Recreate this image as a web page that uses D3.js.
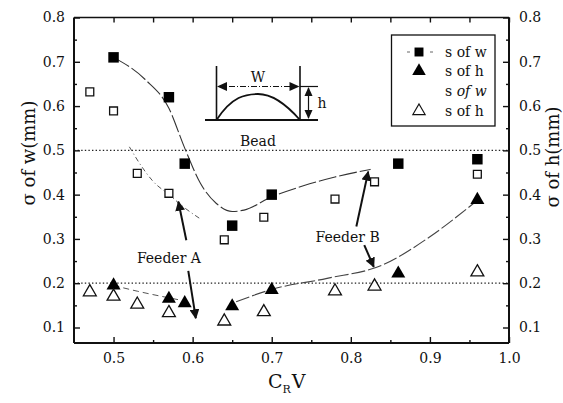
<!DOCTYPE html>
<html>
<head>
<meta charset="utf-8">
<script src="https://cdn.jsdelivr.net/npm/d3@7"></script>
<style>
  html, body { margin: 0; padding: 0; background: #fff; }
  svg { display: block; }
  text { font-family: "DejaVu Serif", "Liberation Serif", serif; fill: #111; }
</style>
</head>
<body>
<svg id="chart" width="563" height="403"></svg>
<script>
// ---- measured series ----
// sigma of bead width, filled squares
const wFilledX = [0.50, 0.57, 0.59, 0.65, 0.70, 0.86, 0.96];
const wFilledY = [0.71, 0.62, 0.47, 0.33, 0.40, 0.47, 0.48];
// sigma of bead width, open squares
const wOpenX = [0.47, 0.50, 0.53, 0.57, 0.64, 0.69, 0.78, 0.83, 0.96];
const wOpenY = [0.632, 0.589, 0.448, 0.403, 0.298, 0.349, 0.39, 0.429, 0.446];
// sigma of bead height, filled triangles
const hFilledX = [0.50, 0.57, 0.59, 0.65, 0.70, 0.86, 0.96];
const hFilledY = [0.195, 0.165, 0.155, 0.148, 0.185, 0.222, 0.388];
// sigma of bead height, open triangles
const hOpenX = [0.47, 0.50, 0.53, 0.57, 0.64, 0.69, 0.78, 0.83, 0.96];
const hOpenY = [0.18, 0.17, 0.152, 0.133, 0.114, 0.135, 0.182, 0.193, 0.225];

// ---- trend curves ----
const wFitX = [0.50, 0.54, 0.57, 0.59, 0.61, 0.63, 0.65, 0.665, 0.70, 0.74, 0.78, 0.825];
const wFitY = [0.71, 0.66, 0.595, 0.505, 0.425, 0.38, 0.362, 0.365, 0.395, 0.42, 0.44, 0.457];
const wOpenFitX = [0.52, 0.535, 0.55, 0.57, 0.59, 0.61];
const wOpenFitY = [0.508, 0.465, 0.43, 0.40, 0.37, 0.345];
const hFitAX = [0.50, 0.53, 0.57, 0.59];
const hFitAY = [0.195, 0.182, 0.167, 0.16];
const hFitBX = [0.655, 0.70, 0.77, 0.84, 0.90, 0.955];
const hFitBY = [0.158, 0.186, 0.211, 0.241, 0.305, 0.38];

// reference levels
const refLevels = [0.5, 0.2];

// axis ticks
const xTicks = [0.5, 0.6, 0.7, 0.8, 0.9, 1.0];
const yTicks = [0.1, 0.2, 0.3, 0.4, 0.5, 0.6, 0.7, 0.8];
const xMinor = [0.55, 0.65, 0.75, 0.85, 0.95];
const yMinor = [0.15, 0.25, 0.35, 0.45, 0.55, 0.65, 0.75];

// legend
const legendLabels = ["s of w", "s of h", "s of w", "s of h"];

// annotations: [tailX, tailY, tipX, tipY]
const feederAArrows = [[0.592, 0.297, 0.582, 0.384], [0.5945, 0.228, 0.604, 0.121]];
const feederBArrows = [[0.807, 0.328, 0.822, 0.452], [0.817, 0.286, 0.829, 0.237]];

const svg = d3.select("#chart");
const margin = { left: 74, right: 54, top: 17.5, bottom: 60 };
const W = 563, H = 403;

const x = d3.scaleLinear().domain([0.45, 1.0]).range([margin.left, W - margin.right]);
const y = d3.scaleLinear().domain([0.065, 0.8]).range([H - margin.bottom, margin.top]);

const zip = (xs, ys) => xs.map((v, i) => [v, ys[i]]);

// arrowhead marker
const defs = svg.append("defs");
defs.append("marker")
  .attr("id", "head")
  .attr("viewBox", "0 0 10 10")
  .attr("refX", 9).attr("refY", 5)
  .attr("markerWidth", 5).attr("markerHeight", 5)
  .attr("markerUnits", "strokeWidth")
  .attr("orient", "auto")
  .append("path").attr("d", "M0,0 L10,5 L0,10 z").attr("fill", "#111");

// reference dotted lines
svg.append("g").selectAll("line").data(refLevels).join("line")
  .attr("x1", x(0.45)).attr("x2", x(1.0))
  .attr("y1", d => y(d)).attr("y2", d => y(d))
  .attr("stroke", "#222").attr("stroke-width", 1.2)
  .attr("stroke-dasharray", "1.4,2.2");

// trend curves
const line = d3.line().x(d => x(d[0])).y(d => y(d[1])).curve(d3.curveMonotoneX);
const curves = [
  { pts: zip(wFitX, wFitY), dash: "18,3", w: 1.1, c: "#333" },
  { pts: zip(wOpenFitX, wOpenFitY), dash: "5,3,1,3", w: 1, c: "#555" },
  { pts: zip(hFitAX, hFitAY), dash: "6,4", w: 1, c: "#555" },
  { pts: zip(hFitBX, hFitBY), dash: "14,3", w: 1.1, c: "#444" }
];
svg.append("g").selectAll("path").data(curves).join("path")
  .attr("d", d => line(d.pts))
  .attr("fill", "none")
  .attr("stroke", d => d.c)
  .attr("stroke-width", d => d.w)
  .attr("stroke-dasharray", d => d.dash);

// markers
const sq = d3.symbol().type(d3.symbolSquare);
const tri = d3.symbol().type(d3.symbolTriangle);
const marks = svg.append("g");
marks.selectAll(".ws").data(zip(wFilledX, wFilledY)).join("path")
  .attr("transform", d => `translate(${x(d[0])},${y(d[1])})`)
  .attr("d", sq.size(110)()).attr("fill", "#000");
marks.selectAll(".wo").data(zip(wOpenX, wOpenY)).join("path")
  .attr("transform", d => `translate(${x(d[0])},${y(d[1])})`)
  .attr("d", sq.size(62)()).attr("fill", "#fff").attr("stroke", "#111").attr("stroke-width", 1.3);
marks.selectAll(".hf").data(zip(hFilledX, hFilledY)).join("path")
  .attr("transform", d => `translate(${x(d[0])},${y(d[1])})`)
  .attr("d", tri.size(85)()).attr("fill", "#000");
marks.selectAll(".ho").data(zip(hOpenX, hOpenY)).join("path")
  .attr("transform", d => `translate(${x(d[0])},${y(d[1])})`)
  .attr("d", tri.size(72)()).attr("fill", "#fff").attr("stroke", "#111").attr("stroke-width", 1.3);

// annotation arrows
svg.append("g").selectAll("line").data(feederAArrows.concat(feederBArrows)).join("line")
  .attr("x1", d => x(d[0])).attr("y1", d => y(d[1]))
  .attr("x2", d => x(d[2])).attr("y2", d => y(d[3]))
  .attr("stroke", "#111").attr("stroke-width", 2)
  .attr("marker-end", "url(#head)");

svg.append("text").attr("x", x(0.57)).attr("y", y(0.257)).attr("dy", "0.35em")
  .attr("text-anchor", "middle").attr("font-size", 14).text("Feeder A");
svg.append("text").attr("x", x(0.796)).attr("y", y(0.305)).attr("dy", "0.35em")
  .attr("text-anchor", "middle").attr("font-size", 14).text("Feeder B");

// frame
const fr = svg.append("g").attr("stroke", "#111").attr("fill", "none");
fr.append("line").attr("x1", x(0.45)).attr("x2", x(1.0)).attr("y1", y(0.8)).attr("y2", y(0.8)).attr("stroke-width", 1.5);
fr.append("line").attr("x1", x(0.45)).attr("x2", x(1.0)).attr("y1", y(0.065)).attr("y2", y(0.065)).attr("stroke-width", 2);
fr.append("line").attr("x1", x(0.45)).attr("x2", x(0.45)).attr("y1", y(0.8)).attr("y2", y(0.065)).attr("stroke-width", 2);
fr.append("line").attr("x1", x(1.0)).attr("x2", x(1.0)).attr("y1", y(0.8)).attr("y2", y(0.065)).attr("stroke-width", 2);

// axes with inward ticks
const fmt = d3.format(".1f");
function styleAxis(g) {
  g.select(".domain").remove();
  g.selectAll(".tick line").attr("stroke", "#111").attr("stroke-width", 1.4);
  g.selectAll(".tick text").attr("font-size", 14).attr("font-family", "DejaVu Serif").attr("fill", "#111");
}

// bottom
svg.append("g").attr("transform", `translate(0,${y(0.065)})`)
  .call(d3.axisBottom(x).tickValues(xTicks).tickFormat(fmt).tickSizeInner(-6).tickPadding(10))
  .call(styleAxis);
svg.append("g").attr("transform", `translate(0,${y(0.065)})`)
  .call(d3.axisBottom(x).tickValues(xMinor).tickFormat("").tickSizeInner(-3))
  .call(styleAxis);
// top
svg.append("g").attr("transform", `translate(0,${y(0.8)})`)
  .call(d3.axisTop(x).tickValues(xTicks.concat(xMinor)).tickFormat("").tickSizeInner(-5))
  .call(styleAxis);
// left
svg.append("g").attr("transform", `translate(${x(0.45)},0)`)
  .call(d3.axisLeft(y).tickValues(yTicks).tickFormat(fmt).tickSizeInner(-6).tickPadding(9))
  .call(styleAxis);
svg.append("g").attr("transform", `translate(${x(0.45)},0)`)
  .call(d3.axisLeft(y).tickValues(yMinor).tickFormat("").tickSizeInner(-3))
  .call(styleAxis);
// right
svg.append("g").attr("transform", `translate(${x(1.0)},0)`)
  .call(d3.axisRight(y).tickValues(yTicks).tickFormat(fmt).tickSizeInner(-6).tickPadding(10))
  .call(styleAxis);
svg.append("g").attr("transform", `translate(${x(1.0)},0)`)
  .call(d3.axisRight(y).tickValues(yMinor).tickFormat("").tickSizeInner(-3))
  .call(styleAxis);

// axis titles
svg.append("text").attr("transform", "translate(29,153) rotate(-90)")
  .attr("text-anchor", "middle").attr("dy", "0.35em").attr("font-size", 18).text("σ of w(mm)");
svg.append("text").attr("transform", "translate(553,157) rotate(-90)")
  .attr("text-anchor", "middle").attr("dy", "0.35em").attr("font-size", 18).text("σ of h(mm)");
const xt = svg.append("text").attr("x", 268).attr("y", 388).attr("font-size", 19);
xt.append("tspan").text("C");
xt.append("tspan").attr("font-size", 11).attr("dy", 5).text("R");
xt.append("tspan").attr("dy", -5).attr("dx", 1).text("V");

// legend
const lg = svg.append("g");
lg.append("rect").attr("x", 391.5).attr("y", 35).attr("width", 103.5).attr("height", 91)
  .attr("fill", "#fff").attr("stroke", "#111").attr("stroke-width", 1.3);
const ly = [52, 71, 91, 111];
lg.append("line").attr("x1", 407).attr("x2", 433).attr("y1", ly[0]).attr("y2", ly[0])
  .attr("stroke", "#666").attr("stroke-width", 1).attr("stroke-dasharray", "3,20");
lg.append("path").attr("transform", `translate(419,${ly[0]})`).attr("d", sq.size(80)()).attr("fill", "#000");
lg.append("path").attr("transform", `translate(419,${ly[1]})`).attr("d", tri.size(80)()).attr("fill", "#000");
lg.append("path").attr("transform", `translate(419,${ly[3]})`).attr("d", tri.size(65)())
  .attr("fill", "#fff").attr("stroke", "#111").attr("stroke-width", 1.2);
legendLabels.forEach((t, i) => {
  const tx = lg.append("text").attr("x", 445).attr("y", ly[i]).attr("dy", "0.35em").attr("font-size", 14);
  if (i === 2) {
    tx.append("tspan").text("s ");
    tx.append("tspan").attr("font-style", "italic").text(t.slice(2));
  } else {
    tx.text(t);
  }
});

// bead cross-section sketch
const bd = svg.append("g").attr("stroke", "#111").attr("fill", "none");
bd.append("line").attr("x1", 205).attr("x2", 318).attr("y1", 120).attr("y2", 120).attr("stroke-width", 2.2);
bd.append("line").attr("x1", 216.5).attr("x2", 216.5).attr("y1", 66).attr("y2", 120).attr("stroke-width", 1.6);
bd.append("line").attr("x1", 300).attr("x2", 300).attr("y1", 66).attr("y2", 120).attr("stroke-width", 1.6);
bd.append("path").attr("d", "M216.5,120 C232,96 246,94 258,94 C272,94 286,104 300,120").attr("stroke-width", 1.8);
// width dimension
bd.append("line").attr("x1", 218).attr("x2", 298).attr("y1", 86.5).attr("y2", 86.5)
  .attr("stroke-width", 1).attr("stroke-dasharray", "6,2,1,2");
bd.append("path").attr("d", "M217,86.5 L227,82 L227,91 z").attr("fill", "#111").attr("stroke", "none");
bd.append("path").attr("d", "M299.5,86.5 L289.5,82 L289.5,91 z").attr("fill", "#111").attr("stroke", "none");
// height dimension
bd.append("line").attr("x1", 300).attr("x2", 318).attr("y1", 86.5).attr("y2", 86.5).attr("stroke-width", 1.2);
bd.append("line").attr("x1", 308.5).attr("x2", 308.5).attr("y1", 88).attr("y2", 118).attr("stroke-width", 1.2);
bd.append("path").attr("d", "M308.5,87 L304.5,96 L312.5,96 z").attr("fill", "#111").attr("stroke", "none");
bd.append("path").attr("d", "M308.5,119 L304.5,110 L312.5,110 z").attr("fill", "#111").attr("stroke", "none");
svg.append("text").attr("x", 258).attr("y", 77).attr("dy", "0.35em").attr("text-anchor", "middle").attr("font-size", 14).text("W");
svg.append("text").attr("x", 322).attr("y", 103).attr("dy", "0.35em").attr("text-anchor", "middle").attr("font-size", 14).text("h");
svg.append("text").attr("x", 258).attr("y", 141).attr("dy", "0.35em").attr("text-anchor", "middle").attr("font-size", 14).text("Bead");
</script>
</body>
</html>
